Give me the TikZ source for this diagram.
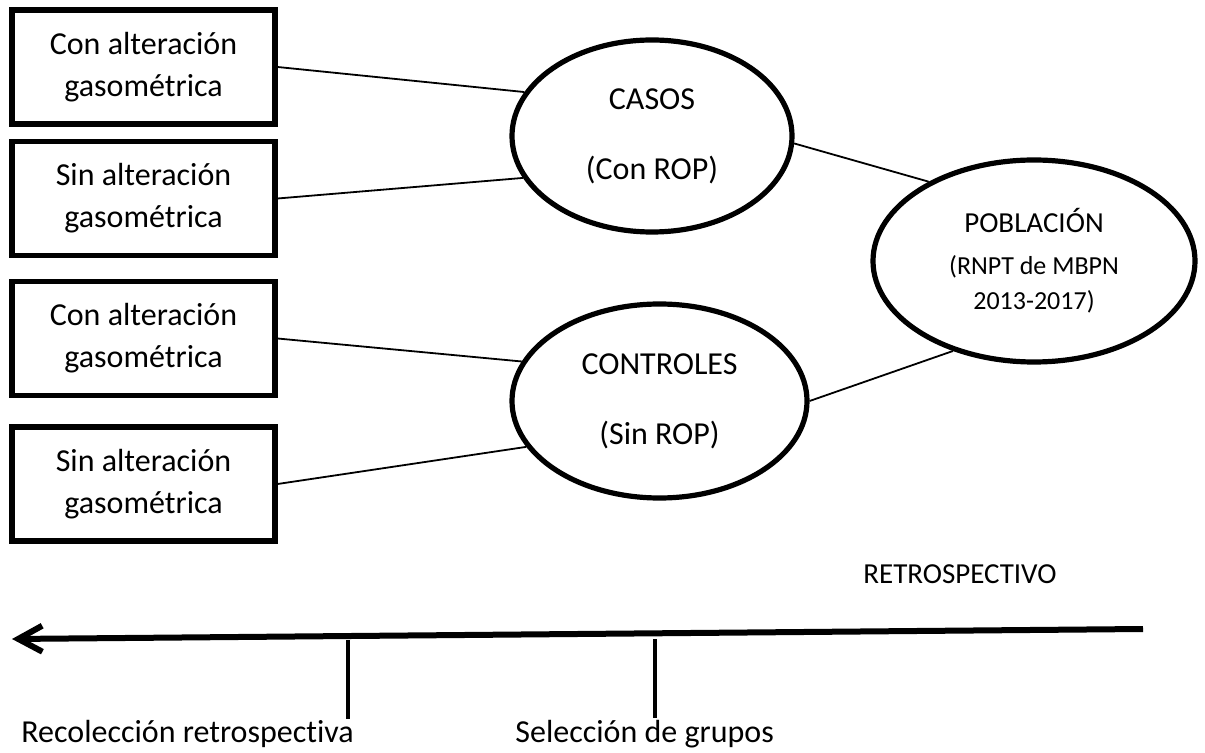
\documentclass[tikz,border=0pt]{standalone}
\usepackage{fontspec}
\setmainfont{Carlito}[Ligatures=NoCommon]
\usetikzlibrary{shapes.geometric,arrows.meta}
\begin{document}
\begin{tikzpicture}[x=0.5pt,y=-0.5pt,
  caja/.style={draw, line width=2.6pt, minimum width=131.5pt, minimum height=57pt, align=center, inner sep=0pt, font=\fontsize{16}{21}\selectfont},
  grupo/.style={draw, ellipse, line width=2.6pt, align=center, inner sep=0pt, font=\fontsize{16}{21}\selectfont},
  enlace/.style={line width=0.9pt},
  marca/.style={line width=2pt},
  etiqueta/.style={anchor=base west, inner sep=0pt, font=\fontsize{16}{19}\selectfont}]
\useasboundingbox (0,0) rectangle (1205,753);

% Draw the boxes on the left
\node[caja] (c1) at (143.5,67) {Con alteración\\gasométrica};
\node[caja] (c2) at (143.5,198.5) {Sin alteración\\gasométrica};
\node[caja] (c3) at (143.5,338.5) {Con alteración\\gasométrica};
\node[caja] (c4) at (143.5,484) {Sin alteración\\gasométrica};

% Draw the groups and the population
\node[grupo, minimum width=140pt, minimum height=96pt] (casos) at (652,136) {CASOS\\[14pt](Con ROP)};
\node[grupo, minimum width=147.5pt, minimum height=97pt] (controles) at (659.5,401) {CONTROLES\\[14pt](Sin ROP)};
\node[grupo, minimum width=161pt, minimum height=101pt, font=\fontsize{13}{17.5}\selectfont] (poblacion) at (1034,261) {{\fontsize{14.5}{17.5}\selectfont POBLACIÓN}\\[3.5pt](RNPT de MBPN\\2013-2017)};

\draw[enlace] (c1.east) -- (casos.161.7);
\draw[enlace] (c2.east) -- (casos.198.3);
\draw[enlace] (c3.east) -- (controles.164.8);
\draw[enlace] (c4.east) -- (controles.199.6);
\draw[enlace] (casos.-3) -- (poblacion.143.2);
\draw[enlace] (controles.east) -- (poblacion.228.3);

% Time line
\coordinate (inicio) at (1143,629);
\coordinate (fin) at (12,639);
\coordinate (marcaA) at (348,640);
\coordinate (marcaB) at (655,639);
\draw[line width=3pt, -{Straight Barb[length=12pt,width=13pt]}] (inicio) -- (fin);
\draw[marca] (marcaA) -- ++(0,79);
\draw[marca] (marcaB) -- ++(0,79);

\node[etiqueta, font=\fontsize{14.5}{17}\selectfont] (retro) at (863,583) {RETROSPECTIVO};
\node[etiqueta] (recoleccion) at (21,742) {Recolección retrospectiva};
\node[etiqueta] (seleccion) at (515,742) {Selección de grupos};
\end{tikzpicture}
\end{document}
